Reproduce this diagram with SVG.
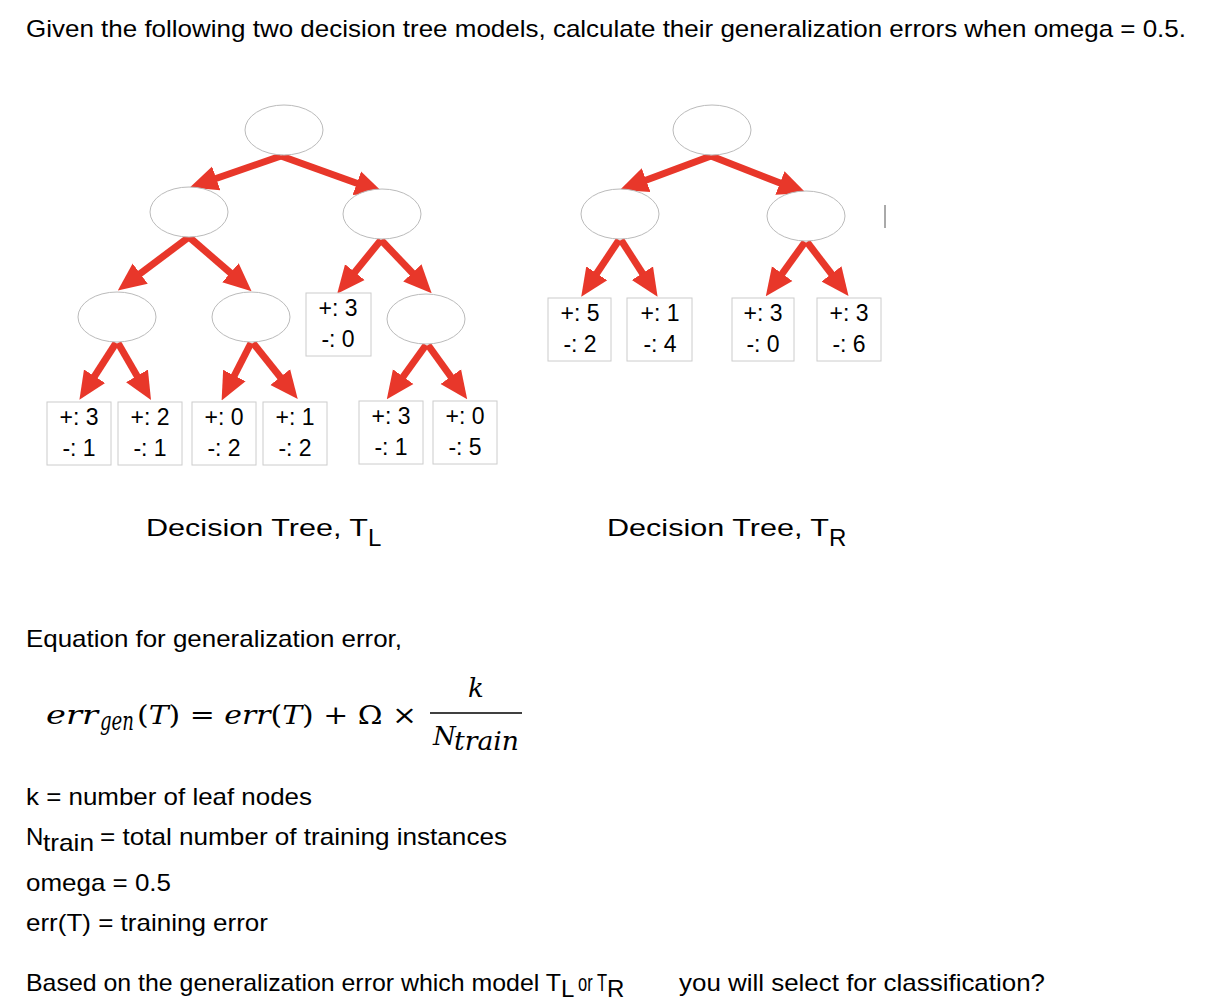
<svg xmlns="http://www.w3.org/2000/svg" width="1212" height="1006" viewBox="0 0 1212 1006">
<style>
.t{font-family:"Liberation Sans",Arial,sans-serif;fill:#000;font-size:24px}
.n{fill:#fff;stroke:#bbb;stroke-width:1}
.b{fill:#fff;stroke:#ccc;stroke-width:1}
.l{font-family:"Liberation Sans",Arial,sans-serif;font-size:23px;text-anchor:middle}
.a{stroke:#e8372a;stroke-width:7;fill:none;marker-end:url(#ah)}
.m{font-family:"DejaVu Serif","Liberation Serif",serif;font-style:italic;font-size:26px}
</style>
<defs><marker id="ah" markerWidth="4" markerHeight="4" refX="2" refY="2" orient="auto" markerUnits="strokeWidth"><path d="M0,0.2 L4,2 L0,3.8 z" fill="#e8372a"/></marker></defs>
<rect width="1212" height="1006" fill="#fff"/>
<text class="t" x="26" y="37" textLength="1160" lengthAdjust="spacingAndGlyphs">Given the following two decision tree models, calculate their generalization errors when omega = 0.5.</text>
<g id="connectors">
<line class="a" x1="281" y1="156" x2="203" y2="183"/>
<line class="a" x1="281" y1="156" x2="370" y2="188"/>
<line class="a" x1="189" y1="237" x2="129" y2="282"/>
<line class="a" x1="189" y1="237" x2="241" y2="282"/>
<line class="a" x1="381" y1="240" x2="346" y2="283"/>
<line class="a" x1="381" y1="240" x2="422" y2="283"/>
<line class="a" x1="116" y1="343" x2="87" y2="388"/>
<line class="a" x1="118" y1="343" x2="144" y2="388"/>
<line class="a" x1="251" y1="343" x2="228" y2="388"/>
<line class="a" x1="253" y1="343" x2="289" y2="388"/>
<line class="a" x1="426" y1="345" x2="395" y2="388"/>
<line class="a" x1="428" y1="345" x2="459" y2="388"/>
<line class="a" x1="711" y1="156" x2="633" y2="185"/>
<line class="a" x1="711" y1="156" x2="793" y2="188"/>
<line class="a" x1="619" y1="240" x2="589" y2="285"/>
<line class="a" x1="621" y1="240" x2="650" y2="285"/>
<line class="a" x1="805" y1="242" x2="774" y2="285"/>
<line class="a" x1="807" y1="242" x2="840" y2="285"/>
</g>
<g id="tl-root"><ellipse class="n" cx="284" cy="130" rx="39" ry="25"/></g>
<g id="tl-l"><ellipse class="n" cx="189" cy="212" rx="39" ry="25"/></g>
<g id="tl-r"><ellipse class="n" cx="382" cy="214" rx="39" ry="25"/></g>
<g id="tl-ll"><ellipse class="n" cx="117" cy="317" rx="39" ry="25"/></g>
<g id="tl-lr"><ellipse class="n" cx="251" cy="317" rx="39" ry="25"/></g>
<g id="tl-rr"><ellipse class="n" cx="426" cy="319" rx="39" ry="25"/></g>
<g id="tl-rl"><rect class="b" x="306" y="293" width="65" height="63"/><text class="l" x="338" y="316">+: 3</text><text class="l" x="338" y="347">-: 0</text></g>
<g id="tl-1"><rect class="b" x="47" y="402" width="64" height="63"/><text class="l" x="79" y="425">+: 3</text><text class="l" x="79" y="456">-: 1</text></g>
<g id="tl-2"><rect class="b" x="118" y="402" width="64" height="63"/><text class="l" x="150" y="425">+: 2</text><text class="l" x="150" y="456">-: 1</text></g>
<g id="tl-3"><rect class="b" x="192" y="402" width="64" height="63"/><text class="l" x="224" y="425">+: 0</text><text class="l" x="224" y="456">-: 2</text></g>
<g id="tl-4"><rect class="b" x="263" y="402" width="64" height="63"/><text class="l" x="295" y="425">+: 1</text><text class="l" x="295" y="456">-: 2</text></g>
<g id="tl-5"><rect class="b" x="359" y="401" width="64" height="63"/><text class="l" x="391" y="424">+: 3</text><text class="l" x="391" y="455">-: 1</text></g>
<g id="tl-6"><rect class="b" x="433" y="401" width="64" height="63"/><text class="l" x="465" y="424">+: 0</text><text class="l" x="465" y="455">-: 5</text></g>
<g id="tr-root"><ellipse class="n" cx="712" cy="130" rx="39" ry="25"/></g>
<g id="tr-l"><ellipse class="n" cx="620" cy="214" rx="39" ry="25"/></g>
<g id="tr-r"><ellipse class="n" cx="806" cy="216" rx="39" ry="25"/></g>
<g id="tr-1"><rect class="b" x="548" y="298" width="63" height="63"/><text class="l" x="580" y="321">+: 5</text><text class="l" x="580" y="352">-: 2</text></g>
<g id="tr-2"><rect class="b" x="627" y="298" width="65" height="63"/><text class="l" x="660" y="321">+: 1</text><text class="l" x="660" y="352">-: 4</text></g>
<g id="tr-3"><rect class="b" x="732" y="298" width="62" height="63"/><text class="l" x="763" y="321">+: 3</text><text class="l" x="763" y="352">-: 0</text></g>
<g id="tr-4"><rect class="b" x="817" y="298" width="64" height="63"/><text class="l" x="849" y="321">+: 3</text><text class="l" x="849" y="352">-: 6</text></g>
<line x1="885" y1="205" x2="885" y2="228" stroke="#555" stroke-width="1"/>
<text class="t" x="146" y="536" font-size="26" textLength="222" lengthAdjust="spacingAndGlyphs">Decision Tree, T</text><text class="t" x="368" y="546" font-size="19">L</text>
<text class="t" x="607" y="536" font-size="26" textLength="222" lengthAdjust="spacingAndGlyphs">Decision Tree, T</text><text class="t" x="829" y="546" font-size="19">R</text>
<text class="t" x="26" y="647" textLength="376" lengthAdjust="spacingAndGlyphs">Equation for generalization error,</text>
<text class="m" x="46" y="724" textLength="52" lengthAdjust="spacingAndGlyphs">err</text><text class="m" x="100" y="730" font-size="19" textLength="34" lengthAdjust="spacingAndGlyphs">gen</text>
<text class="m" x="137" y="724" textLength="280" lengthAdjust="spacingAndGlyphs"><tspan font-style="normal">(</tspan>T<tspan font-style="normal">) = </tspan>err<tspan font-style="normal">(</tspan>T<tspan font-style="normal">) + Ω ×</tspan></text>
<text class="m" x="476" y="697" text-anchor="middle">k</text>
<line x1="430" y1="713" x2="522" y2="713" stroke="#000" stroke-width="1.3"/>
<text class="m" x="433" y="745">N</text><text class="m" x="454" y="750" font-size="19" textLength="65" lengthAdjust="spacingAndGlyphs">train</text>
<text class="t" x="26" y="805" textLength="286" lengthAdjust="spacingAndGlyphs">k = number of leaf nodes</text>
<text class="t" x="26" y="845">N</text><text class="t" x="43" y="851" textLength="51" lengthAdjust="spacingAndGlyphs">train</text><text class="t" x="100" y="845" textLength="407" lengthAdjust="spacingAndGlyphs">= total number of training instances</text>
<text class="t" x="26" y="891" textLength="145" lengthAdjust="spacingAndGlyphs">omega = 0.5</text>
<text class="t" x="26" y="931" textLength="242" lengthAdjust="spacingAndGlyphs">err(T) = training error</text>
<text class="t" x="26" y="991" textLength="535" lengthAdjust="spacingAndGlyphs">Based on the generalization error which model T</text><text class="t" x="561" y="997">L</text>
<text class="t" x="578" y="991" textLength="29" lengthAdjust="spacingAndGlyphs">or T</text><text class="t" x="607" y="997">R</text>
<text class="t" x="679" y="991" textLength="366" lengthAdjust="spacingAndGlyphs">you will select for classification?</text>
</svg>
